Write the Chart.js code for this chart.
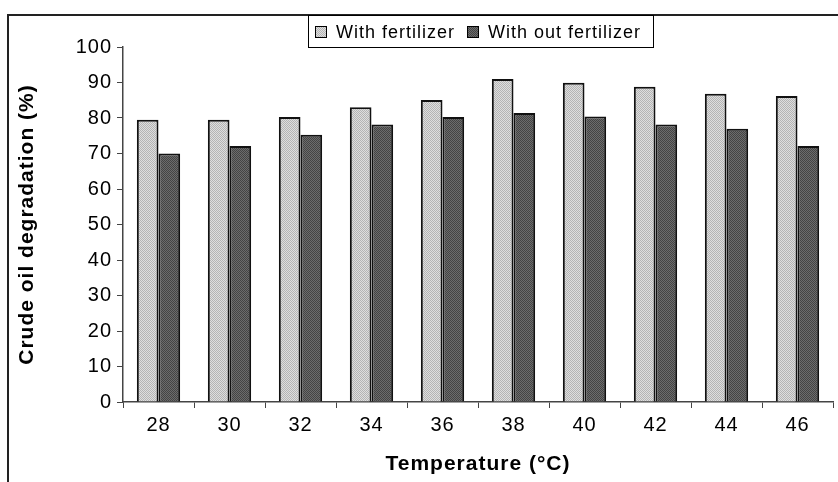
<!DOCTYPE html>
<html>
<head>
<meta charset="utf-8">
<script src="https://cdn.jsdelivr.net/npm/chart.js@4.4.1/dist/chart.umd.min.js"></script>
<style>
  html, body { margin: 0; padding: 0; background: #fff; }
  #wrap { width: 838px; height: 482px; }
</style>
</head>
<body>
<div id="wrap"><canvas id="myChart"></canvas></div>
<script>
// data
var temperatures = ["28", "30", "32", "34", "36", "38", "40", "42", "44", "46"];
var withFertilizer = [79.5, 79.5, 80.3, 83, 85.1, 91, 89.9, 88.8, 86.8, 86.2];
var withoutFertilizer = [70, 72.1, 75.3, 78.2, 80.3, 81.4, 80.4, 78.2, 77, 72.1];
var yTicks = [0, 10, 20, 30, 40, 50, 60, 70, 80, 90, 100];

var FONT = "'Liberation Sans', Arial, sans-serif";

// dotted fill like the old office chart patterns
function makePattern(c1, c2) {
    var p = document.createElement("canvas");
    p.width = 2; p.height = 2;
    var g = p.getContext("2d");
    g.fillStyle = c1; g.fillRect(0, 0, 2, 2);
    g.fillStyle = c2; g.fillRect(0, 0, 1, 1); g.fillRect(1, 1, 1, 1);
    return g.createPattern(p, "repeat");
}
var lightFill = makePattern("#dedede", "#b4b4b4");
var darkFill = makePattern("#6c6c6c", "#444444");

var spacing = {
    id: "spacing",
    beforeLayout: function(chart) { chart.ctx.letterSpacing = "1px"; },
    beforeDraw: function(chart) { chart.ctx.letterSpacing = "1px"; }
};

// outer frame + boxed legend
var frameLegend = {
    id: "frameLegend",
    afterDraw: function(chart) {
        var ctx = chart.ctx;
        ctx.save();
        ctx.strokeStyle = "#222";
        ctx.lineWidth = 2;
        ctx.beginPath();
        ctx.moveTo(8, 482); ctx.lineTo(8, 15); ctx.lineTo(838, 15);
        ctx.stroke();

        ctx.lineWidth = 1;
        ctx.strokeStyle = "#000";
        ctx.strokeRect(308.5, 15.5, 345, 32);

        ctx.font = "18px " + FONT;
        ctx.letterSpacing = "1px";
        ctx.textBaseline = "middle";
        ctx.fillStyle = "#000";
        var xs = [315, 467];
        chart.data.datasets.forEach(function(ds, i) {
            ctx.fillStyle = ds.backgroundColor;
            ctx.fillRect(xs[i], 26, 12, 12);
            ctx.strokeStyle = "#000";
            ctx.lineWidth = 1;
            ctx.strokeRect(xs[i] + 0.5, 26.5, 11, 11);
            ctx.fillStyle = "#000";
            ctx.fillText(ds.label, xs[i] + 21, 33);
        });
        ctx.restore();
    }
};

var ctx = document.getElementById("myChart").getContext("2d");

var myChart = new Chart(ctx, {
    type: "bar",
    data: {
        labels: temperatures,
        datasets: [
            {
            label: "With fertilizer",
            backgroundColor: lightFill,
            borderColor: "#111",
            borderWidth: 2,
            data: withFertilizer
            },
            {
            label: "With out fertilizer",
            backgroundColor: darkFill,
            borderColor: "#111",
            borderWidth: 2,
            data: withoutFertilizer
            }]
    },
    options: {
        responsive: true,
        maintainAspectRatio: false,
        animation: false,
        layout: { padding: { top: 47, right: 5, left: 0, bottom: 0 } },
        datasets: { bar: { categoryPercentage: 0.61, barPercentage: 1 } },
        plugins: {
            legend: { display: false },
            tooltip: { enabled: false }
        },
        scales: {
            x: {
                offset: true,
                grid: { offset: true, drawOnChartArea: false, drawTicks: true, tickLength: 6, color: "#444" },
                border: { color: "#444", width: 1.5 },
                ticks: { color: "#000", font: { family: FONT, size: 20 }, padding: 5, maxRotation: 0 },
                title: { display: true, text: "Temperature (°C)", color: "#000",
                         font: { family: FONT, size: 21, weight: "bold" }, padding: { top: 0, bottom: 5 } },
                afterFit: function(s) { s.height = 80; }
            },
            y: {
                min: 0,
                max: 100,
                afterBuildTicks: function(s) { s.ticks = yTicks.map(function(v) { return { value: v }; }); },
                grid: { drawOnChartArea: false, drawTicks: true, tickLength: 6, color: "#444" },
                border: { color: "#444", width: 1.5 },
                ticks: { color: "#000", font: { family: FONT, size: 20 }, padding: 5 },
                title: { display: true, text: "Crude oil degradation (%)", color: "#000",
                         font: { family: FONT, size: 21, weight: "bold" }, padding: { top: 15, bottom: 0 } },
                afterFit: function(s) { s.width = 123; }
            }
        }
    },
    plugins: [spacing, frameLegend]
});
</script>
</body>
</html>
